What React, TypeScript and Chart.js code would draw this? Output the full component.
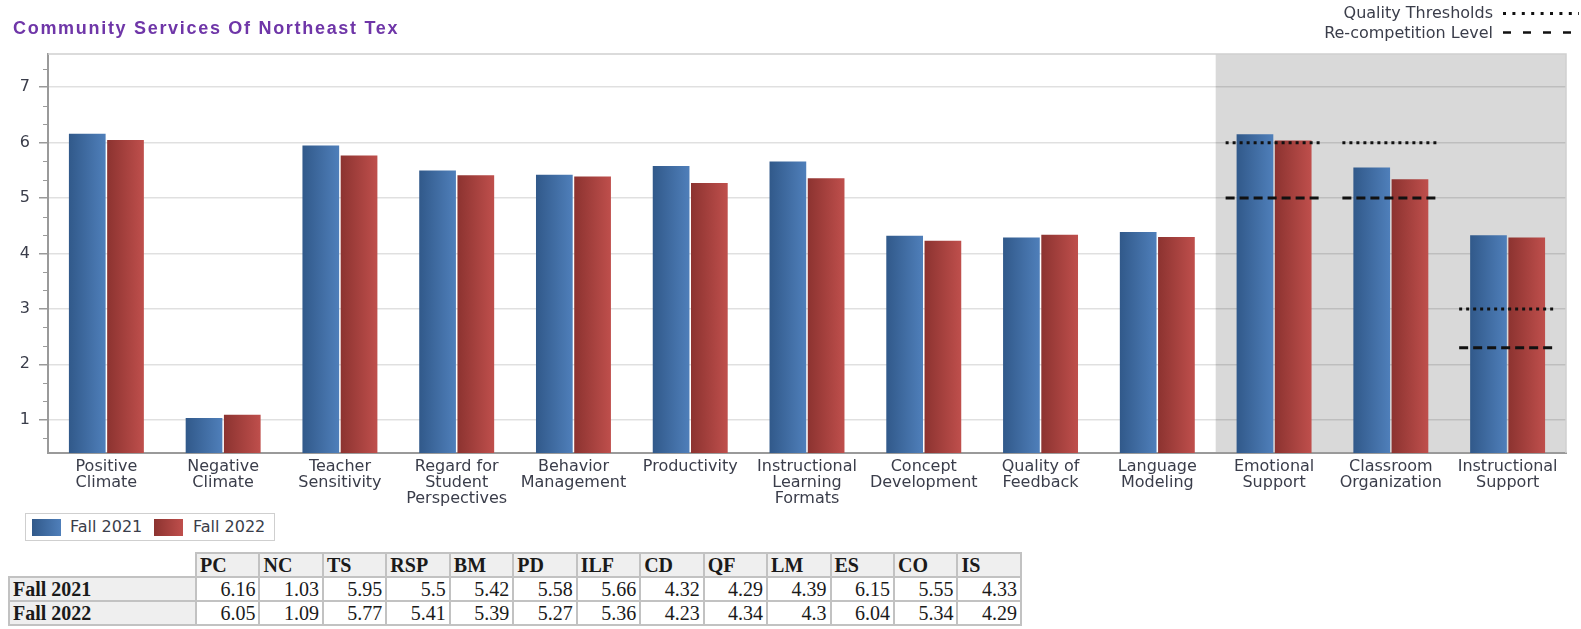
import React, { useEffect, useRef } from 'react';
import { Chart, registerables } from 'chart.js';

Chart.register(...registerables);

// ---------------- data ----------------
const chartTitle = 'Community Services Of Northeast Tex';
const categories: string[][] = [
  ['Positive', 'Climate'],
  ['Negative', 'Climate'],
  ['Teacher', 'Sensitivity'],
  ['Regard for', 'Student', 'Perspectives'],
  ['Behavior', 'Management'],
  ['Productivity'],
  ['Instructional', 'Learning', 'Formats'],
  ['Concept', 'Development'],
  ['Quality of', 'Feedback'],
  ['Language', 'Modeling'],
  ['Emotional', 'Support'],
  ['Classroom', 'Organization'],
  ['Instructional', 'Support'],
];
const abbreviations = ['PC', 'NC', 'TS', 'RSP', 'BM', 'PD', 'ILF', 'CD', 'QF', 'LM', 'ES', 'CO', 'IS'];
const seriesNames = ['Fall 2021', 'Fall 2022'];
const fall2021 = [6.16, 1.03, 5.95, 5.5, 5.42, 5.58, 5.66, 4.32, 4.29, 4.39, 6.15, 5.55, 4.33];
const fall2022 = [6.05, 1.09, 5.77, 5.41, 5.39, 5.27, 5.36, 4.23, 4.34, 4.3, 6.04, 5.34, 4.29];
const qualityThresholds: (number | null)[] = [null, null, null, null, null, null, null, null, null, null, 6, 6, 3];
const recompetitionLevels: (number | null)[] = [null, null, null, null, null, null, null, null, null, null, 5, 5, 2.3];
const compositeStartIndex = 10;
const yTickValues = [1, 2, 3, 4, 5, 6, 7];
const yMin = 0.4;
const yMax = 7.6;
const legendLabels = ['Quality Thresholds', 'Re-competition Level'];

// ---------------- styling ----------------
const CAT_PCT = 0.655;
const BAR_PCT = 0.96;
const BLUE_DARK = '#31598a';
const BLUE_LIGHT = '#4f7fba';
const RED_DARK = '#8c3330';
const RED_LIGHT = '#bf4f4c';
const TEXT = '#3a3d4a';
const SANS = '"DejaVu Sans", Verdana, sans-serif';
const FONT_SIZE = 16;

function barGradient(ctx: any, dark: string, light: string) {
  const chart = ctx.chart;
  const xs = chart.scales && chart.scales.x;
  if (!chart.chartArea || !xs || ctx.type !== 'data' || !xs.width) return light;
  const n = categories.length;
  const cw = xs.width / n;
  const size = cw * CAT_PCT;
  const chunk = size / 2;
  const bw = chunk * BAR_PCT;
  const center = xs.getPixelForValue(ctx.dataIndex) - size / 2 + chunk * ctx.datasetIndex + chunk / 2;
  const g = chart.ctx.createLinearGradient(center - bw / 2, 0, center + bw / 2, 0);
  g.addColorStop(0, dark);
  g.addColorStop(1, light);
  return g;
}

const shadePlugin = {
  id: 'shade',
  beforeDraw(chart: any) {
    const { ctx, chartArea, scales } = chart;
    const xs = scales.x;
    const cw = xs.width / categories.length;
    const left = xs.getPixelForValue(compositeStartIndex) - cw / 2;
    ctx.save();
    ctx.fillStyle = '#d9d9d9';
    ctx.fillRect(left, chartArea.top, chartArea.right - left, chartArea.bottom - chartArea.top);
    ctx.restore();
  },
  afterDraw(chart: any) {
    const { ctx, chartArea, scales } = chart;
    const ys = scales.y;
    ctx.save();
    ctx.strokeStyle = '#d0d0d0';
    ctx.lineWidth = 1.5;
    ctx.beginPath();
    ctx.moveTo(chartArea.left, chartArea.top);
    ctx.lineTo(chartArea.right, chartArea.top);
    ctx.lineTo(chartArea.right, chartArea.bottom);
    ctx.stroke();
    ctx.strokeStyle = '#9a9a9a';
    ctx.lineWidth = 1;
    for (let k = Math.ceil(yMin * 3); k <= Math.floor(yMax * 3); k++) {
      if (k % 3 === 0) continue;
      const y = Math.round(ys.getPixelForValue(k / 3)) + 0.5;
      ctx.beginPath();
      ctx.moveTo(chartArea.left - 5, y);
      ctx.lineTo(chartArea.left, y);
      ctx.stroke();
    }
    ctx.restore();
  },
};

const thresholdPlugin = {
  id: 'thresholds',
  afterDatasetsDraw(chart: any) {
    const { ctx, scales } = chart;
    const xs = scales.x;
    const ys = scales.y;
    const cw = xs.width / categories.length;
    const half = cw * 0.415;
    const drawSet = (vals: (number | null)[], dash: number[]) => {
      vals.forEach((v, i) => {
        if (v == null) return;
        const cx = xs.getPixelForValue(i);
        const y = ys.getPixelForValue(v);
        ctx.save();
        ctx.strokeStyle = '#111';
        ctx.lineWidth = 3;
        ctx.setLineDash(dash);
        ctx.beginPath();
        ctx.moveTo(cx - half, y);
        ctx.lineTo(cx + half, y);
        ctx.stroke();
        ctx.restore();
      });
    };
    drawSet(qualityThresholds, [3, 4]);
    drawSet(recompetitionLevels, [9, 5]);
  },
};

export default function App() {
  const ref = useRef<HTMLCanvasElement>(null);

  useEffect(() => {
    const canvas = ref.current;
    if (!canvas) return;
    const chart = new Chart(canvas, {
      type: 'bar',
      data: {
        labels: categories,
        datasets: [
          {
            label: seriesNames[0],
            data: fall2021,
            backgroundColor: (c: any) => barGradient(c, BLUE_DARK, BLUE_LIGHT),
            borderWidth: 0,
          },
          {
            label: seriesNames[1],
            data: fall2022,
            backgroundColor: (c: any) => barGradient(c, RED_DARK, RED_LIGHT),
            borderWidth: 0,
          },
        ],
      },
      options: {
        animation: false,
        responsive: false,
        maintainAspectRatio: false,
        categoryPercentage: CAT_PCT,
        barPercentage: BAR_PCT,
        layout: { padding: { left: 0, top: 54, right: 15, bottom: 0 } },
        plugins: {
          legend: { display: false },
          title: { display: false },
          tooltip: { enabled: false },
        },
        scales: {
          x: {
            grid: { display: false, drawTicks: false },
            border: { display: true, color: '#9a9a9a', width: 2 },
            ticks: {
              color: TEXT,
              font: { family: SANS, size: FONT_SIZE, lineHeight: '16px' as any },
              padding: 6,
              maxRotation: 0,
              autoSkip: false,
            },
            afterFit: (s: any) => {
              s.height = 57;
            },
          },
          y: {
            min: yMin,
            max: yMax,
            afterBuildTicks: (s: any) => {
              s.ticks = yTickValues.map((v) => ({ value: v }));
            },
            afterFit: (s: any) => {
              s.width = 48;
            },
            grid: {
              color: 'rgba(0,0,0,0.12)',
              tickColor: '#9a9a9a',
              tickLength: 9,
              lineWidth: 1.5,
            },
            border: { display: true, color: '#9a9a9a', width: 2 },
            ticks: {
              color: TEXT,
              font: { family: SANS, size: FONT_SIZE },
              padding: 9,
              callback: (v: any) => String(v),
            },
          },
        },
      },
      plugins: [shadePlugin, thresholdPlugin],
    } as any);
    return () => chart.destroy();
  }, []);

  const border = '2px solid #c2c2c2';
  const labelCell: React.CSSProperties = {
    border,
    background: '#efefef',
    fontWeight: 'bold',
    textAlign: 'left',
    padding: '0 3px',
    height: 22,
    whiteSpace: 'nowrap',
  };
  const headCell: React.CSSProperties = { ...labelCell };
  const valCell: React.CSSProperties = {
    border,
    background: '#fff',
    textAlign: 'right',
    padding: '0 3px',
    height: 22,
  };

  const rows = [fall2021, fall2022];

  return (
    <div
      style={{
        position: 'absolute',
        left: 0,
        top: 0,
        width: 1581,
        height: 629,
        background: '#fff',
        overflow: 'hidden',
      }}
    >
      <canvas
        ref={ref}
        width={1581}
        height={510}
        style={{ position: 'absolute', left: 0, top: 0, width: 1581, height: 510 }}
      />
      <div
        style={{
          position: 'absolute',
          left: 13,
          top: 19,
          fontFamily: '"Liberation Sans", Arial, sans-serif',
          fontWeight: 'bold',
          fontSize: 18,
          lineHeight: '18px',
          letterSpacing: '1.7px',
          color: '#6f36a8',
          whiteSpace: 'nowrap',
        }}
      >
        {chartTitle}
      </div>

      {/* threshold legend, top right */}
      <div
        style={{
          position: 'absolute',
          left: 1200,
          width: 293,
          top: 3,
          textAlign: 'right',
          fontFamily: SANS,
          fontSize: FONT_SIZE,
          lineHeight: '19px',
          color: TEXT,
          whiteSpace: 'nowrap',
        }}
      >
        {legendLabels[0]}
      </div>
      <svg style={{ position: 'absolute', left: 1503, top: 11 }} width={76} height={5}>
        <line x1={0} y1={2.5} x2={76} y2={2.5} stroke="#111" strokeWidth={3} strokeDasharray="3 6.4" />
      </svg>
      <div
        style={{
          position: 'absolute',
          left: 1200,
          width: 293,
          top: 23,
          textAlign: 'right',
          fontFamily: SANS,
          fontSize: FONT_SIZE,
          lineHeight: '19px',
          color: TEXT,
          whiteSpace: 'nowrap',
        }}
      >
        {legendLabels[1]}
      </div>
      <svg style={{ position: 'absolute', left: 1503, top: 30 }} width={76} height={5}>
        <line x1={0} y1={2.5} x2={76} y2={2.5} stroke="#111" strokeWidth={2.5} strokeDasharray="8 12" />
      </svg>

      {/* series legend */}
      <div
        style={{
          position: 'absolute',
          left: 25,
          top: 513,
          width: 250,
          height: 28,
          boxSizing: 'border-box',
          border: '1.5px solid #cfcfcf',
          fontFamily: SANS,
          fontSize: FONT_SIZE,
          color: TEXT,
        }}
      >
        <div
          style={{
            position: 'absolute',
            left: 6,
            top: 5,
            width: 29,
            height: 17,
            background: `linear-gradient(to right, ${BLUE_DARK}, ${BLUE_LIGHT})`,
          }}
        />
        <div style={{ position: 'absolute', left: 44, top: 3, lineHeight: '19px' }}>{seriesNames[0]}</div>
        <div
          style={{
            position: 'absolute',
            left: 128,
            top: 5,
            width: 29,
            height: 17,
            background: `linear-gradient(to right, ${RED_DARK}, ${RED_LIGHT})`,
          }}
        />
        <div style={{ position: 'absolute', left: 167, top: 3, lineHeight: '19px' }}>{seriesNames[1]}</div>
      </div>

      {/* data table */}
      <table
        style={{
          position: 'absolute',
          left: 8,
          top: 552,
          borderCollapse: 'collapse',
          tableLayout: 'fixed',
          width: 1014,
          fontFamily: '"Liberation Serif", "Times New Roman", serif',
          fontSize: 20,
          lineHeight: '22px',
          color: '#1a1a1a',
        }}
      >
        <colgroup>
          <col style={{ width: 187 }} />
          {abbreviations.map((a) => (
            <col key={a} />
          ))}
        </colgroup>
        <tbody>
          <tr>
            <td style={{ border: 'none', background: '#fff' }} />
            {abbreviations.map((a) => (
              <td key={a} style={headCell}>
                {a}
              </td>
            ))}
          </tr>
          {rows.map((r, ri) => (
            <tr key={ri}>
              <td style={labelCell}>{seriesNames[ri]}</td>
              {r.map((v, i) => (
                <td key={i} style={valCell}>
                  {String(v)}
                </td>
              ))}
            </tr>
          ))}
        </tbody>
      </table>
    </div>
  );
}
